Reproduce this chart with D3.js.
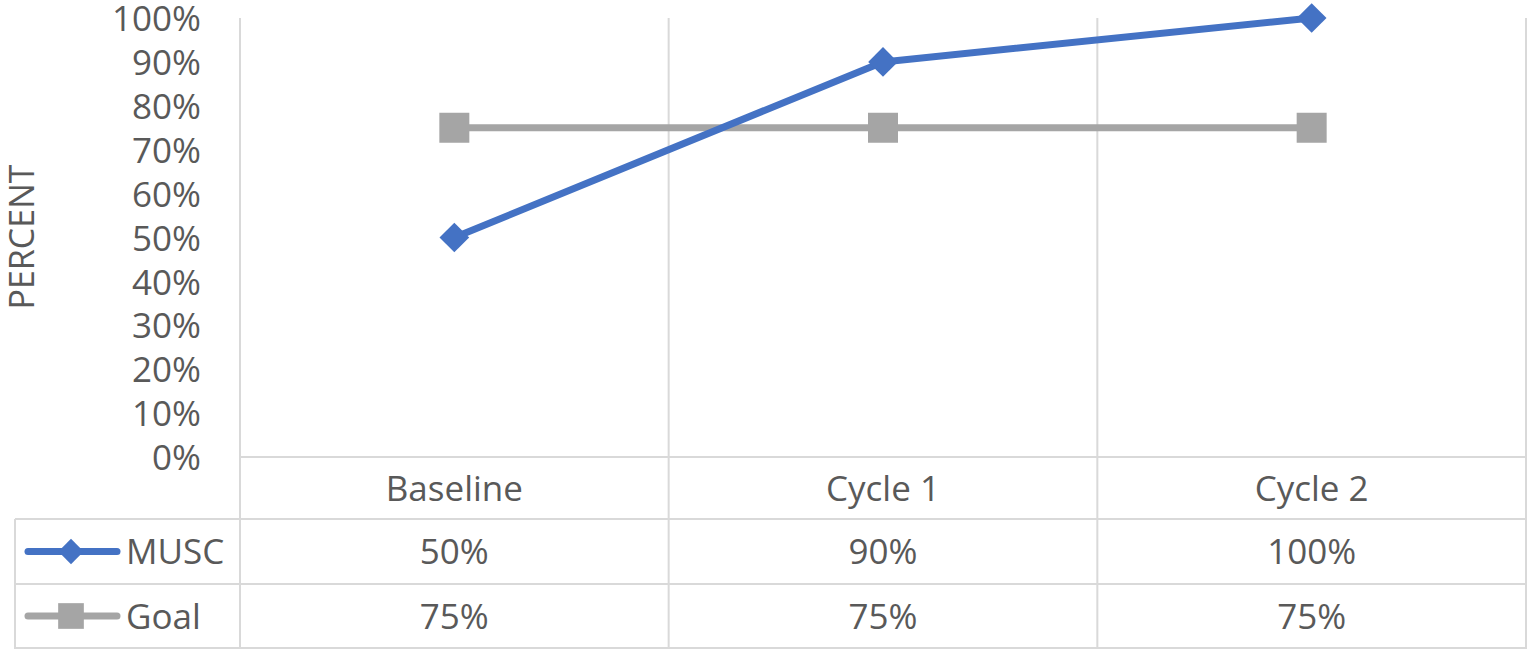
<!DOCTYPE html>
<html>
<head>
<meta charset="utf-8">
<script src="https://cdn.jsdelivr.net/npm/d3@7"></script>
<style>
  html, body { margin: 0; padding: 0; background: #fff; }
  svg { display: block; }
  text { font-family: "Open Sans", "Liberation Sans", sans-serif; fill: #595959; }
</style>
</head>
<body>
<svg id="chart" width="1527" height="649"></svg>
<script>
// Chart data
const categories = ["Baseline", "Cycle 1", "Cycle 2"];
const muscValues = [0.50, 0.90, 1.00];
const goalValues = [0.75, 0.75, 0.75];
const yTicks = [0, 0.1, 0.2, 0.3, 0.4, 0.5, 0.6, 0.7, 0.8, 0.9, 1.0];
const seriesNames = ["MUSC", "Goal"];
const seriesColors = ["#4472C4", "#A5A5A5"];

const series = seriesNames.map((name, i) => ({
  name,
  color: seriesColors[i],
  values: i === 0 ? muscValues : goalValues,
  diamond: i === 0
}));

const svg = d3.select("#chart");
const W = 1527, H = 649;
const plot = { left: 240, right: 1526, top: 18, bottom: 457 };
const rowBounds = [457, 519, 584, 648];
const legendLeft = 15;
const gridColor = "#D9D9D9";
const fontSize = "35px";

const x = d3.scaleBand().domain(categories).range([plot.left, plot.right]);
const y = d3.scaleLinear().domain([0, 1]).range([plot.bottom, plot.top]);
const fmt = d3.format(".0%");

// Marker: a square, turned 45 degrees for the diamond
function marker(sel, s, area) {
  sel.attr("d", d3.symbol().type(d3.symbolSquare).size(area))
    .attr("fill", s.color);
}

// Vertical gridlines at category boundaries, running through the data table
const bounds = categories.map(c => x(c)).concat([plot.right]);
svg.append("g").selectAll("line").data(bounds).join("line")
  .attr("x1", d => d).attr("x2", d => d)
  .attr("y1", plot.top).attr("y2", H)
  .attr("stroke", gridColor).attr("stroke-width", 2);

// Horizontal table lines
svg.append("line").attr("x1", plot.left).attr("x2", plot.right)
  .attr("y1", rowBounds[0]).attr("y2", rowBounds[0])
  .attr("stroke", gridColor).attr("stroke-width", 2);
svg.append("g").selectAll("line").data(rowBounds.slice(1)).join("line")
  .attr("x1", legendLeft).attr("x2", plot.right)
  .attr("y1", d => d).attr("y2", d => d)
  .attr("stroke", gridColor).attr("stroke-width", 2);
svg.append("line").attr("x1", legendLeft).attr("x2", legendLeft)
  .attr("y1", rowBounds[1]).attr("y2", H)
  .attr("stroke", gridColor).attr("stroke-width", 2);

// Y axis labels
const yAxis = d3.axisLeft(y).tickValues(yTicks).tickFormat(fmt).tickSize(0).tickPadding(0);
const yg = svg.append("g").attr("transform", `translate(201,0)`).call(yAxis);
yg.select(".domain").remove();
yg.selectAll("text").style("font-size", fontSize).attr("fill", "#595959")
  .attr("dy", "0.36em")
  .style("font-family", "'Open Sans', sans-serif");

// Y axis title
svg.append("text")
  .attr("transform", `translate(34,237) rotate(-90)`)
  .attr("text-anchor", "middle")
  .style("font-size", "34px")
  .text("PERCENT");

// Category labels (table header row)
svg.append("g").selectAll("text").data(categories).join("text")
  .attr("x", d => x(d) + x.bandwidth() / 2)
  .attr("y", (rowBounds[0] + rowBounds[1]) / 2)
  .attr("dy", "0.36em")
  .attr("text-anchor", "middle")
  .style("font-size", fontSize)
  .text(d => d);

// Lines and markers
const line = d3.line()
  .x((d, i) => x(categories[i]) + x.bandwidth() / 2)
  .y(d => y(d));

// Draw Goal first so MUSC sits on top
[...series].reverse().forEach(s => {
  svg.append("path")
    .datum(s.values)
    .attr("d", line)
    .attr("fill", "none")
    .attr("stroke", s.color)
    .attr("stroke-width", 7)
    .attr("stroke-linejoin", "round")
    .attr("stroke-linecap", "round");
  svg.append("g").selectAll("path").data(s.values).join("path")
    .attr("transform", (d, i) =>
      `translate(${x(categories[i]) + x.bandwidth() / 2},${y(d)})` + (s.diamond ? " rotate(45)" : ""))
    .call(marker, s, s.diamond ? 440 : 900);
});

// Data table rows with legend keys
series.forEach((s, r) => {
  const cy = (rowBounds[r + 1] + rowBounds[r + 2]) / 2;
  svg.append("line")
    .attr("x1", 28).attr("x2", 117).attr("y1", cy).attr("y2", cy)
    .attr("stroke", s.color).attr("stroke-width", 7).attr("stroke-linecap", "round");
  svg.append("path")
    .attr("transform", `translate(71,${cy})` + (s.diamond ? " rotate(45)" : ""))
    .call(marker, s, s.diamond ? 320 : 660);
  svg.append("text")
    .attr("x", 126).attr("y", cy).attr("dy", "0.36em")
    .style("font-size", fontSize)
    .text(s.name);
  svg.append("g").selectAll("text").data(s.values).join("text")
    .attr("x", (d, i) => x(categories[i]) + x.bandwidth() / 2)
    .attr("y", cy).attr("dy", "0.36em")
    .attr("text-anchor", "middle")
    .style("font-size", fontSize)
    .text(d => fmt(d));
});
</script>
</body>
</html>
